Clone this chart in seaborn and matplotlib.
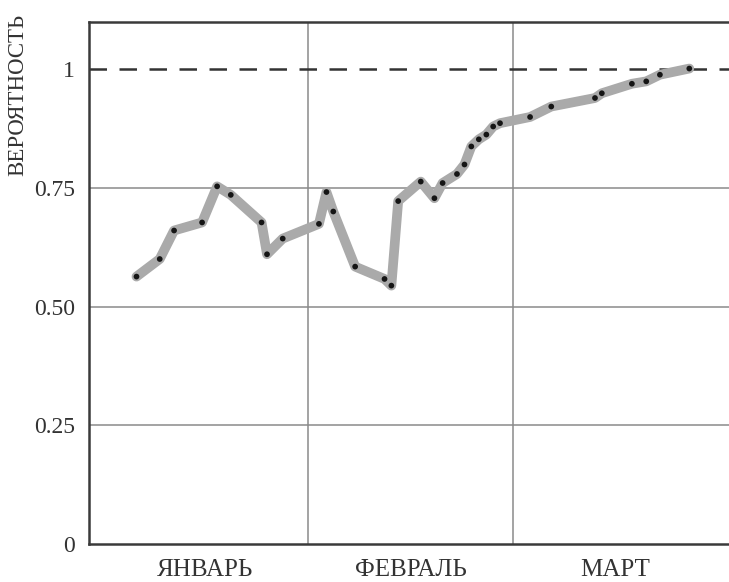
import matplotlib
matplotlib.use("Agg")
import matplotlib.pyplot as plt
import seaborn as sns
import pandas as pd

# day index (30-day months: Jan 0-30, Feb 30-60, Mar 60-90)
days = [4.9, 8.3, 10.4, 14.5, 16.7, 18.7, 23.2, 24.0, 26.3, 31.6, 32.7, 33.7,
        36.9, 41.2, 42.2, 43.2, 46.5, 48.5, 49.7, 51.8, 52.9, 53.9, 55.0, 56.1,
        57.1, 58.1, 62.5, 65.6, 72.0, 73.0, 77.4, 79.5, 81.5, 85.8]
probability = [0.563, 0.600, 0.660, 0.677, 0.753, 0.735, 0.677, 0.610, 0.643,
               0.674, 0.741, 0.700, 0.584, 0.558, 0.544, 0.722, 0.763, 0.728,
               0.760, 0.779, 0.799, 0.837, 0.852, 0.862, 0.879, 0.886, 0.899,
               0.921, 0.939, 0.949, 0.969, 0.974, 0.988, 1.001]
month_labels = ["ЯНВАРЬ", "ФЕВРАЛЬ", "МАРТ"]
month_centers = [15, 45, 75]
month_bounds = [30, 60]
ytick_vals = [0, 0.25, 0.5, 0.75, 1]
ytick_labels = ["0", "0.25", "0.50", "0.75", "1"]
ylabel = "ВЕРОЯТНОСТЬ"

df = pd.DataFrame({"day": days, "p": probability})

sns.set_style("white")
plt.rcParams["font.family"] = ["Liberation Serif", "DejaVu Serif"]

fig = plt.figure(figsize=(7.29, 5.82), dpi=100)
ax = fig.add_axes([89 / 729, 38 / 582, 643 / 729, 522 / 582])

for yv in ytick_vals[1:-1]:
    ax.axhline(yv, color="#8a8a8a", lw=1.1, zorder=1)
for xv in month_bounds:
    ax.axvline(xv, color="#8a8a8a", lw=1.1, zorder=1)
ax.axhline(1, color="#333333", lw=1.8, dashes=(7, 5), zorder=1)

sns.lineplot(data=df, x="day", y="p", ax=ax, color="#aaaaaa", lw=7,
             solid_capstyle="round", solid_joinstyle="round", zorder=2)
sns.scatterplot(data=df, x="day", y="p", ax=ax, color="#151515", s=17,
                edgecolor="none", zorder=3)

ax.set_xlim(-2.05, 92.05)
ax.set_ylim(0, 1.099)
ax.set_xticks(month_centers)
ax.set_xticklabels(month_labels, fontsize=18)
ax.set_yticks(ytick_vals)
ax.set_yticklabels(ytick_labels, fontsize=17)
ax.tick_params(axis="both", length=0, colors="#333333")
ax.tick_params(axis="y", pad=10)
ax.tick_params(axis="x", pad=11)
ax.set_xlabel("")
ax.set_ylabel(ylabel, fontsize=16.5, color="#333333")
ax.yaxis.set_label_coords(-0.095, 0.86)

for side in ["left", "bottom", "top"]:
    ax.spines[side].set_color("#3a3a3a")
    ax.spines[side].set_linewidth(1.8)
ax.spines["right"].set_visible(False)

fig.savefig("out.png", dpi=100)
